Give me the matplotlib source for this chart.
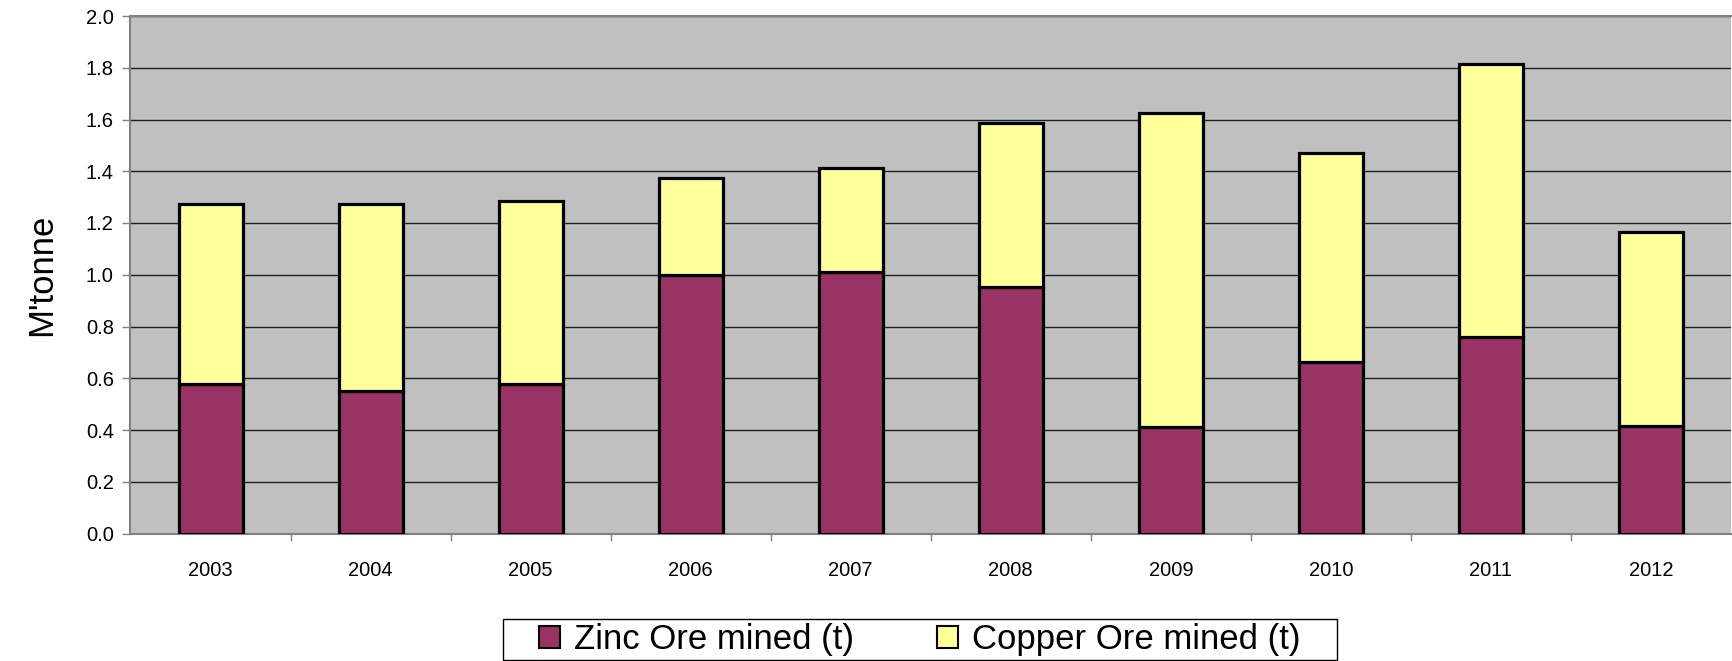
import numpy as np
import matplotlib
matplotlib.use("Agg")
import matplotlib.pyplot as plt
from matplotlib.patches import Rectangle
from matplotlib.ticker import MultipleLocator, FixedLocator

plt.rcParams['font.family'] = ['Liberation Sans', 'DejaVu Sans']

# data (million tonnes)
years = ['2003', '2004', '2005', '2006', '2007', '2008', '2009', '2010', '2011', '2012']
zinc_ore = [0.577, 0.551, 0.577, 1.000, 1.012, 0.951, 0.412, 0.663, 0.761, 0.415]
copper_ore = [0.696, 0.722, 0.707, 0.375, 0.401, 0.636, 1.213, 0.808, 1.052, 0.749]

W, H = 1733, 661
fig = plt.figure(figsize=(W / 100, H / 100), dpi=100)
ax = fig.add_axes([130.5 / W, (H - 533.5) / H, (1731 - 130.5) / W, (533.5 - 16) / H])
ax.set_facecolor('#C0C0C0')

x = np.arange(len(years))
ax.bar(x, zinc_ore, width=0.4, color='#993366', edgecolor='black', linewidth=2.3,
       label='Zinc Ore mined (t)', zorder=3)
ax.bar(x, copper_ore, width=0.4, bottom=zinc_ore, color='#FFFF99', edgecolor='black',
       linewidth=2.3, label='Copper Ore mined (t)', zorder=3)

ax.set_ylim(0, 2.0)
ax.yaxis.set_major_locator(MultipleLocator(0.2))
ax.set_yticklabels([f'{v:.1f}' for v in ax.get_yticks()])
ax.yaxis.grid(True, color='#202020', linewidth=1)
ax.set_axisbelow(True)

ax.set_xlim(-0.5, len(years) - 0.5)
ax.set_xticks(x)
ax.set_xticklabels(years)
ax.xaxis.set_minor_locator(FixedLocator(np.arange(0.5, len(years) - 0.5, 1)))
ax.tick_params(axis='x', which='major', length=0, pad=20, labelsize=14.5)
ax.tick_params(axis='x', which='minor', length=5, color='#808080', width=1)
ax.tick_params(axis='y', length=6, color='#808080', width=1, labelsize=14.5, pad=6)

for s in ['left', 'bottom', 'top']:
    ax.spines[s].set_color('#808080')
    ax.spines[s].set_linewidth(1.5)
ax.spines['right'].set_visible(False)

ax.set_ylabel("M'tonne", fontsize=25, labelpad=20)

leg = fig.legend(loc='center', bbox_to_anchor=(920 / W, 1 - 640 / H), ncol=2,
                 fontsize=25, frameon=False,
                 handlelength=0.6, handleheight=0.6,
                 handletextpad=0.4, columnspacing=2.4, borderaxespad=0)
for h in leg.legend_handles:
    h.set_linewidth(1.5)

# legend frame
fig.patches.append(Rectangle((503 / W, 1 - 660 / H), (1337 - 503) / W, 41 / H,
                             transform=fig.transFigure, fill=False,
                             edgecolor='black', linewidth=1))

fig.savefig('out.png', dpi=100, facecolor='white')
